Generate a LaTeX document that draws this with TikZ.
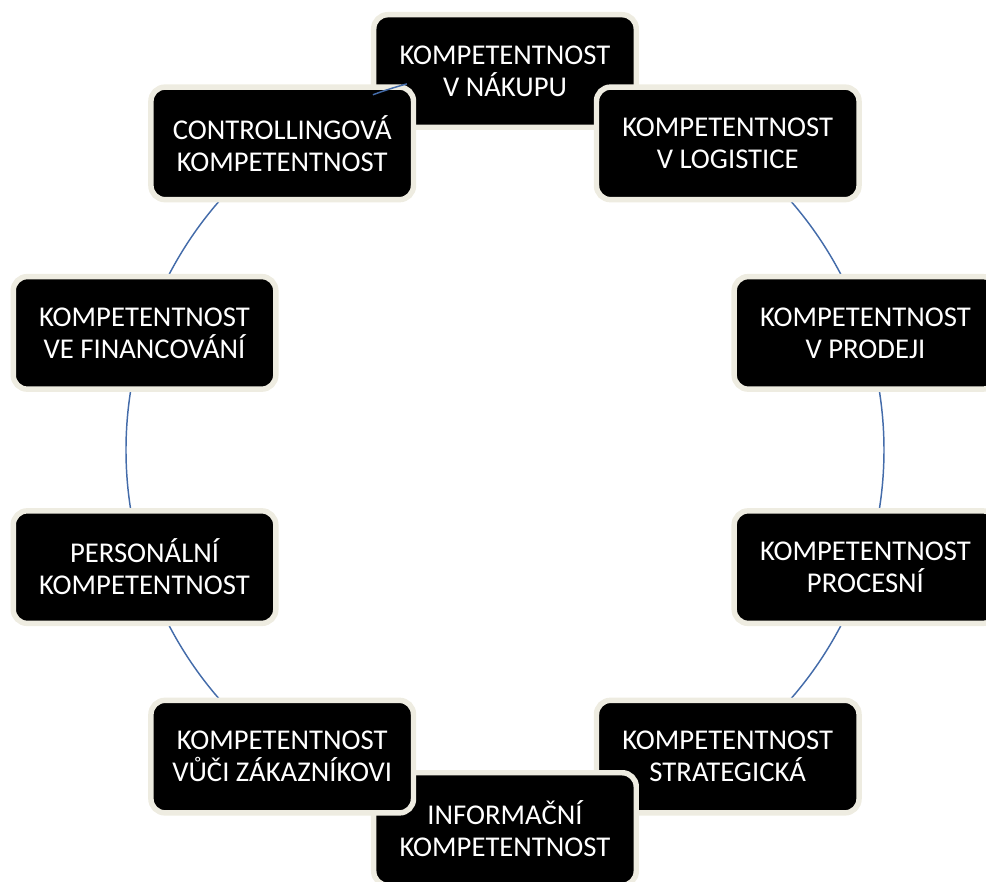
\documentclass[tikz,border=0pt]{standalone}
\usepackage{fontspec}
\setmainfont{Carlito}
\usetikzlibrary{backgrounds}
\definecolor{boxedge}{RGB}{238,236,225}
\definecolor{linkblue}{RGB}{68,108,170}
\begin{document}
\begin{tikzpicture}[x=0.75pt,y=0.75pt,
  comp/.style={draw=boxedge, line width=4.1pt, fill=black, rounded corners=10.5pt,
    minimum width=196.9pt, minimum height=84.4pt, text=white, align=center,
    font=\fontsize{21.5}{24}\selectfont, inner sep=0pt},
  conn/.style={draw=linkblue, line width=1.1pt}]
\useasboundingbox (-505,-432) rectangle (481,450);
\clip (-505,-432) rectangle (481,450);
\node[comp] (nak)   at (90:379)   {KOMPETENTNOST\\V NÁKUPU};
\node[comp] (log)   at (54:379)   {KOMPETENTNOST\\V LOGISTICE};
\node[comp] (prod)  at (18:379)   {KOMPETENTNOST\\V PRODEJI};
\node[comp] (proc)  at (-18:379)  {KOMPETENTNOST\\PROCESNÍ};
\node[comp] (strat) at (-54:379)  {KOMPETENTNOST\\STRATEGICKÁ};
\node[comp] (info)  at (-90:379)  {INFORMAČNÍ\\KOMPETENTNOST};
\node[comp] (zak)   at (-126:379) {KOMPETENTNOST\\VŮČI ZÁKAZNÍKOVI};
\node[comp] (pers)  at (-162:379) {PERSONÁLNÍ\\KOMPETENTNOST};
\node[comp] (fin)   at (162:379)  {KOMPETENTNOST\\VE FINANCOVÁNÍ};
\node[comp] (ctrl)  at (126:379)  {CONTROLLINGOVÁ\\KOMPETENTNOST};
\begin{pgfonlayer}{background}
\draw[conn] (log.center)  arc[start angle=54,   end angle=18,   radius=379];
\draw[conn] (prod.center) arc[start angle=18,   end angle=-18,  radius=379];
\draw[conn] (proc.center) arc[start angle=-18,  end angle=-54,  radius=379];
\draw[conn] (zak.center)  arc[start angle=-126, end angle=-162, radius=379];
\draw[conn] (pers.center) arc[start angle=-162, end angle=-198, radius=379];
\draw[conn] (fin.center)  arc[start angle=162,  end angle=126,  radius=379];
\end{pgfonlayer}
\coordinate (ka) at (110.4:379);
\draw[conn] (ka) arc[start angle=110.4, end angle=105, radius=379];
\end{tikzpicture}
\end{document}
